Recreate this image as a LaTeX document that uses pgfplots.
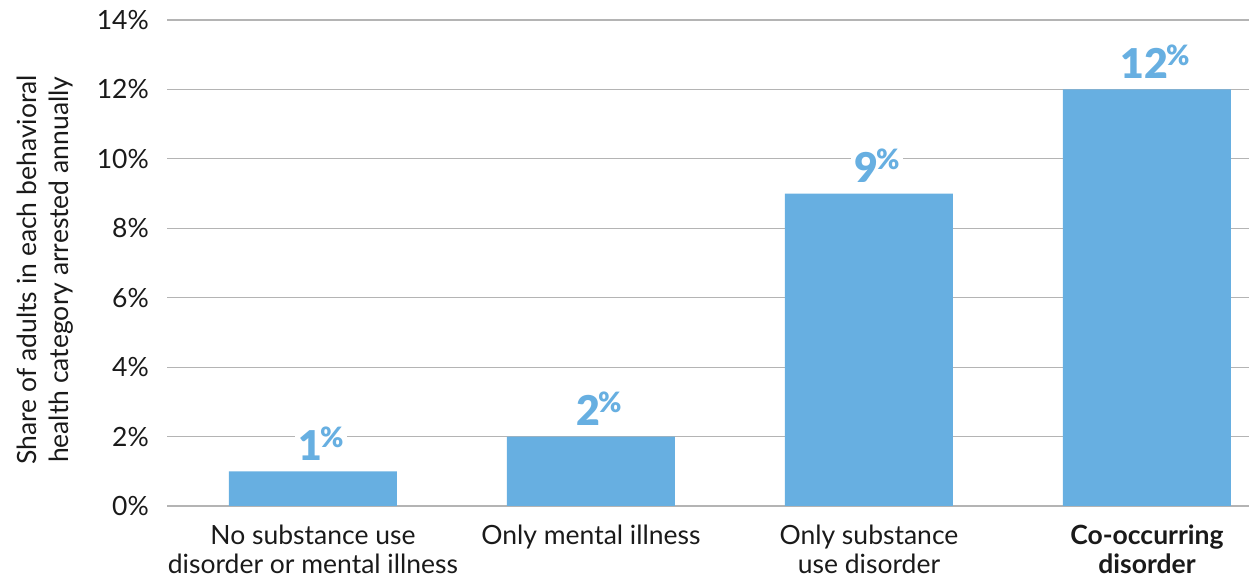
\documentclass[border=0pt]{standalone}
\usepackage{fontspec}
\setmainfont{Lato}
\newfontfamily\latoblack{Lato Black}
\usepackage{pgfplots}
\pgfplotsset{compat=1.18}
\definecolor{barblue}{HTML}{67AFE1}
\definecolor{gridgray}{HTML}{B4B4B4}
\definecolor{txt}{HTML}{1A1A1A}
\begin{document}
\begin{tikzpicture}[x=1pt,y=1pt]
\path[use as bounding box] (0,0) rectangle (1249,583);
\begin{axis}[
  at={(167pt,77pt)}, anchor=south west,
  scale only axis, width=1082pt, height=486pt,
  xmin=-0.525, xmax=3.367, ymin=0, ymax=14,
  axis line style={draw=none},
  major tick style={draw=none},
  /pgf/number format/assume math mode=true,
  ytick={0,2,...,14},
  yticklabel={\pgfmathprintnumber{\tick}\%},
  ymajorgrids, grid style={gridgray, line width=1.2pt},
  xtick={0,1,2,3},
  xticklabels={{No substance use\\disorder or mental illness},{Only mental illness},{Only substance\\use disorder},{\textbf{Co-occurring}\\\textbf{disorder}}},
  every tick label/.append style={font=\fontsize{26.5}{29}\selectfont, text=txt},
  yticklabel style={anchor=east, inner sep=0pt, xshift=-18pt},
  xticklabel style={align=center, anchor=north, inner sep=0pt, yshift=-19pt},
  ylabel={Share of adults in each behavioral\\health category arrested annually},
  ylabel style={align=center, font=\fontsize{26.5}{32}\selectfont, text=txt, at={(axis description cs:-0.1128,0.486)}, anchor=center},
  nodes near coords={\latoblack\fontsize{41}{41}\selectfont\pgfmathprintnumber{\pgfplotspointmeta}\hspace{-2pt}\raisebox{12.5pt}{\fontsize{28}{28}\selectfont\%}},
  every node near coord/.append style={text=barblue, fill=white, inner sep=3pt, anchor=south, yshift=8pt, xshift=8pt},
]
\addplot[ybar, fill=barblue, draw=none, bar width=168pt] coordinates {(0,1) (1,2) (2,9) (3,12)};
\end{axis}
\end{tikzpicture}
\end{document}
